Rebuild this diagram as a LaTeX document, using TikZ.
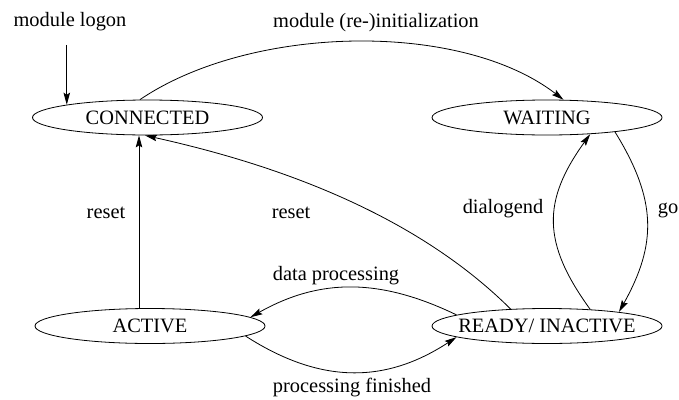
\documentclass[tikz,border=0pt]{standalone}
\usepackage{fontspec}
\setmainfont{Liberation Serif}
\usetikzlibrary{shapes.geometric,arrows.meta}
\begin{document}
\begin{tikzpicture}[x=1pt,y=-1pt,line width=0.8pt,
  state/.style={ellipse, draw, minimum width=230pt, minimum height=35pt, inner sep=0pt},
  lbl/.style={anchor=base, inner sep=0pt},
  arr/.style={-{Stealth[length=12pt,width=6.5pt,inset=2pt]}},
  every node/.style={font=\fontsize{20.4}{24}\selectfont}]
\useasboundingbox (0,0) rectangle (679,399);
% states
\node[state] (conn) at (147.5,117.5){\makebox[0pt]{CONNECTED}};
\node[state] (wait) at (547,117.5){\makebox[0pt]{WAITING}};
\node[state] (active) at (150,326){\makebox[0pt]{ACTIVE}};
\node[state] (ready) at (547,326){\makebox[0pt]{READY/ INACTIVE}};
% labels
\node[lbl] (logon) at (70,26){module logon};
\node[lbl] (init) at (376,27){module (re-)initialization};
\node[lbl] (reset1) at (106,218){reset};
\node[lbl] (reset2) at (291,218){reset};
\node[lbl] (dlg) at (503,213){dialogend};
\node[lbl] (go) at (668,213){go};
\node[lbl] (data) at (336,280){data processing};
\node[lbl] (fin) at (352,392){processing finished};
% transitions
\draw[arr] ([yshift=-14pt]logon.south -| conn.171) -- (conn.171);
\draw[arr] (conn.113) .. controls (250,25) and (460,20) .. (wait.47);
\draw[arr] ([xshift=-11pt]active.north) -- ([xshift=-8.5pt]conn.south);
\draw[arr] (ready.155.9) .. controls (410,209) and (265,162) .. (conn.262);
\draw[arr] (ready.173.5) .. controls (380,278) and (320,278) .. (active.5.9);
\draw[arr] (active.354.3) .. controls (320,384) and (385,384) .. (ready.187.1);
\draw[arr] (ready.21.2) .. controls (542,243) and (542,201) .. (wait.339.3);
\draw[arr] (wait.348.5) .. controls (657,200) and (657,244) .. (ready.11.2);
\end{tikzpicture}
\end{document}
